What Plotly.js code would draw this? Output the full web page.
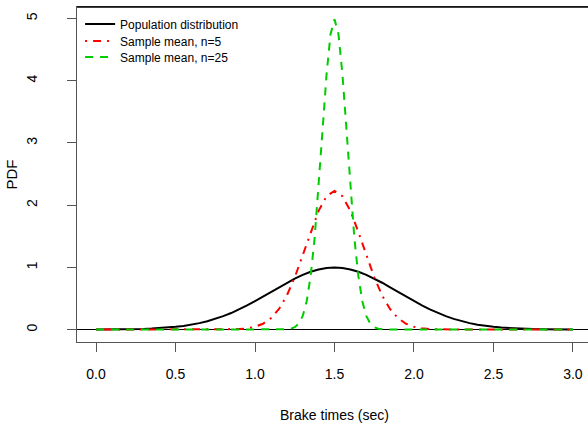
<!DOCTYPE html>
<html>
<head>
<meta charset="utf-8">
<script src="https://cdn.plot.ly/plotly-3.0.1.min.js"></script>
<style>
  html, body { margin: 0; padding: 0; overflow: hidden; background: #fff; }
  #chart { width: 600px; height: 425px; }
</style>
</head>
<body>
<div id="chart"></div>
<script>
// Brake times (sec)
const popX = [0,0.05,0.1,0.15,0.2,0.25,0.3,0.35,0.4,0.45,0.5,0.55,0.6,0.65,0.7,0.75,0.8,0.85,0.9,0.95,
  1.0,1.05,1.1,1.15,1.2,1.25,1.3,1.35,1.4,1.45,1.5,1.55,1.6,1.65,1.7,1.75,1.8,1.85,1.9,1.95,
  2.0,2.05,2.1,2.15,2.2,2.25,2.3,2.35,2.4,2.45,2.5,2.55,2.6,2.65,2.7,2.75,2.8,2.85,2.9,2.95,3.0];
const popY = [0.001,0.001,0.002,0.003,0.005,0.008,0.011,0.016,0.023,0.032,0.044,0.059,0.079,0.104,0.135,0.172,0.216,0.266,0.324,0.388,
  0.457,0.530,0.605,0.680,0.753,0.820,0.880,0.930,0.967,0.990,0.997,0.990,0.967,0.930,0.880,0.820,0.753,0.680,0.605,0.530,
  0.457,0.388,0.324,0.266,0.216,0.172,0.135,0.104,0.079,0.059,0.044,0.032,0.023,0.016,0.011,0.008,0.005,0.003,0.002,0.001,0.001];

const n5X = popX;
const n5Y = [0,0,0,0,0,0,0,0,0,0,0,0,0,0,0,0,
  0.001,0.003,0.008,0.020,0.045,0.094,0.183,0.329,0.547,0.840,1.194,1.569,1.908,2.145,
  2.230,
  2.145,1.908,1.569,1.194,0.840,0.547,0.329,0.183,0.094,0.045,0.020,0.008,0.003,0.001,
  0,0,0,0,0,0,0,0,0,0,0,0,0,0,0,0];

const n25X = [0,1.15,1.175,1.2,1.225,1.25,1.275,1.3,1.325,1.35,1.375,1.4,1.425,1.45,1.475,1.5,
  1.525,1.55,1.575,1.6,1.625,1.65,1.675,1.7,1.725,1.75,1.775,1.8,1.825,1.85,3];
const n25Y = [0,0,0.001,0.004,0.014,0.038,0.096,0.219,0.456,0.860,1.471,2.283,3.214,4.102,4.749,4.987,
  4.749,4.102,3.214,2.283,1.471,0.860,0.456,0.219,0.096,0.038,0.014,0.004,0.001,0,0];

const seriesNames = ['Population distribution', 'Sample mean, n=5', 'Sample mean, n=25'];
const xTickVals = [0,0.5,1,1.5,2,2.5,3];
const xTickText = ['0.0','0.5','1.0','1.5','2.0','2.5','3.0'];
const yTickVals = [0,1,2,3,4,5];
const yTickText = ['0','1','2','3','4','5'];

const FONT = 'Liberation Sans, Arial, sans-serif';

const traces = [
  {x: popX, y: popY, name: seriesNames[0], type: 'scatter', mode: 'lines', legend: 'legend',
   line: {color: '#000000', width: 2}},
  {x: n5X, y: n5Y, name: seriesNames[1], type: 'scatter', mode: 'lines', legend: 'legend2',
   line: {color: '#FF0000', width: 2, dash: '2px,6px,8px,6px'}},
  {x: n25X, y: n25Y, name: seriesNames[2], type: 'scatter', mode: 'lines', legend: 'legend3',
   line: {color: '#00CD00', width: 2, dash: '8px,7px'}}
];

function leg(y) {
  return {x: 0.006, y: y, xanchor: 'left', yanchor: 'middle',
          bgcolor: 'rgba(0,0,0,0)', borderwidth: 0,
          font: {family: FONT, size: 12, color: '#000'}};
}

const layout = {
  width: 600, height: 425,
  margin: {l: 77, r: 8, t: 7, b: 83, pad: 0},
  paper_bgcolor: '#ffffff', plot_bgcolor: '#ffffff',
  font: {family: FONT, color: '#000000', size: 14},
  showlegend: true,
  legend: leg(0.9493),
  legend2: leg(0.8985),
  legend3: leg(0.8505),
  xaxis: {
    range: [-0.12, 3.12], tickvals: xTickVals, ticktext: xTickText,
    showgrid: false, zeroline: false,
    showline: true, linecolor: '#555', linewidth: 1, mirror: true,
    ticks: 'outside', ticklen: 9, tickcolor: '#555', tickwidth: 1,
    ticklabelstandoff: 10,
    tickfont: {family: FONT, size: 14, color: '#000'},
    title: {text: 'Brake times (sec)', font: {family: FONT, size: 14, color: '#000'}, standoff: 29},
    automargin: false, fixedrange: true
  },
  yaxis: {
    range: [-0.1995, 5.186], tickvals: yTickVals, ticktext: yTickText,
    showgrid: false,
    zeroline: true, zerolinecolor: '#000', zerolinewidth: 1,
    showline: true, linecolor: '#555', linewidth: 1, mirror: true,
    ticks: 'outside', ticklen: 9, tickcolor: '#555', tickwidth: 1,
    tickangle: -90, ticklabelstandoff: 24,
    tickfont: {family: FONT, size: 14, color: '#000'},
    title: {text: 'PDF', font: {family: FONT, size: 15, color: '#000'}, standoff: 3},
    automargin: false, fixedrange: true
  },
  shapes: [
    {type: 'line', xref: 'paper', yref: 'paper', x0: 0, x1: 1, y0: 1, y1: 1,
     line: {color: '#000', width: 1.5}}
  ]
};

Plotly.newPlot('chart', traces, layout, {displayModeBar: false, staticPlot: true});
</script>
</body>
</html>
